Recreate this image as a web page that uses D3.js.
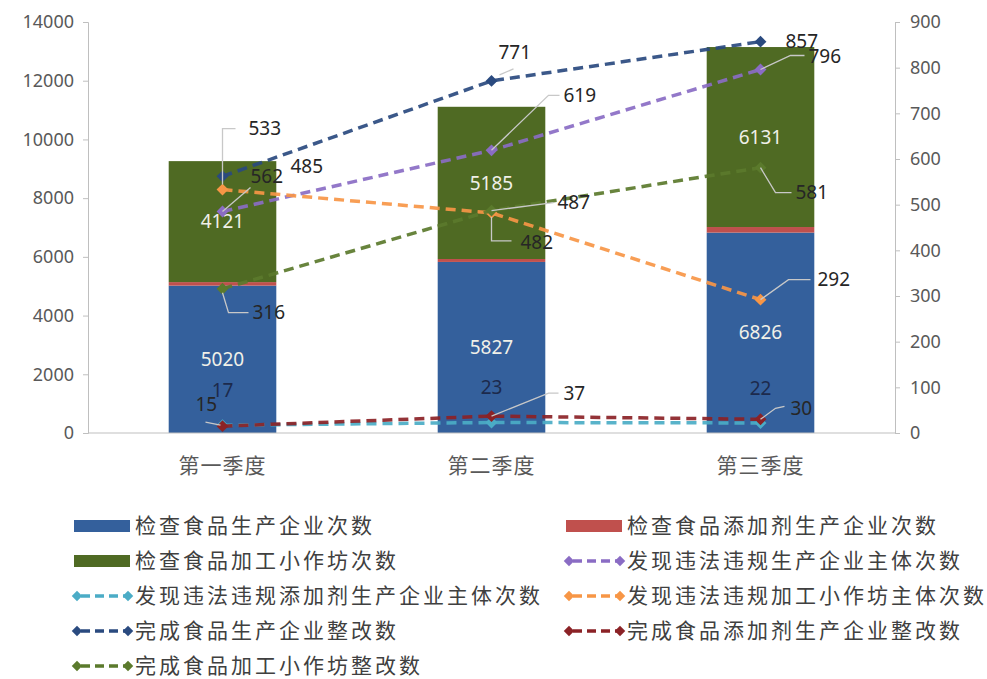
<!DOCTYPE html>
<html>
<head>
<meta charset="utf-8">
<script src="https://cdn.jsdelivr.net/npm/d3@7"></script>
<style>
  body { margin: 0; background: #fff; }
  text { font-family: "Noto Sans", "Noto Sans CJK SC", sans-serif; }
</style>
</head>
<body>
<div id="chart-area"></div>
<script>
// data
var quarters = ["第一季度", "第二季度", "第三季度"];

var prodChecks = [5020, 5827, 6826];      // 检查食品生产企业次数
var additiveChecks = [120, 100, 190];     // 检查食品添加剂生产企业次数 (no labels, estimated)
var workshopChecks = [4121, 5185, 6131];  // 检查食品加工小作坊次数

var prodIllegal = [485, 619, 796];        // 发现违法违规生产企业主体次数
var additiveIllegal = [17, 23, 22];       // 发现违法违规添加剂生产企业主体次数
var workshopIllegal = [533, 482, 292];    // 发现违法违规加工小作坊主体次数
var prodFixed = [562, 771, 857];          // 完成食品生产企业整改数
var additiveFixed = [15, 37, 30];         // 完成食品添加剂生产企业整改数
var workshopFixed = [316, 487, 581];      // 完成食品加工小作坊整改数

var leftTicks = [0, 2000, 4000, 6000, 8000, 10000, 12000, 14000];
var rightTicks = [0, 100, 200, 300, 400, 500, 600, 700, 800, 900];

var width = 987, height = 679;
var margin = { left: 88, right: 92, top: 22, bottom: 246 };
var plotW = width - margin.left - margin.right,
    plotH = height - margin.top - margin.bottom;

var svg = d3.select("#chart-area")
  .append("svg")
    .attr("width", width)
    .attr("height", height);

var g = svg.append("g")
  .attr("transform", "translate(" + margin.left + "," + margin.top + ")");

// scales
var x = d3.scaleBand()
  .domain(quarters)
  .range([0, plotW])
  .paddingInner(0.6)
  .paddingOuter(0.3);

var yL = d3.scaleLinear().domain([0, 14000]).range([plotH, 0]);
var yR = d3.scaleLinear().domain([0, 900]).range([plotH, 0]);

var axisColor = "#bfbfbf", textColor = "#595959";

// stacked bars
var barSeries = [
  { name: "检查食品生产企业次数", values: prodChecks, color: "#34609c", label: true },
  { name: "检查食品添加剂生产企业次数", values: additiveChecks, color: "#c0504d", label: false },
  { name: "检查食品加工小作坊次数", values: workshopChecks, color: "#4f6a23", label: true }
];

var stackRows = quarters.map(function(q, i) {
  var row = { q: q };
  barSeries.forEach(function(s, k) { row["s" + k] = s.values[i]; });
  return row;
});
var stacked = d3.stack().keys(barSeries.map(function(s, k) { return "s" + k; }))(stackRows);

stacked.forEach(function(layer, k) {
  g.append("g").selectAll("rect")
    .data(layer)
    .enter().append("rect")
      .attr("x", function(d) { return x(d.data.q); })
      .attr("y", function(d) { return yL(d[1]); })
      .attr("width", x.bandwidth())
      .attr("height", function(d) { return yL(d[0]) - yL(d[1]); })
      .attr("fill", barSeries[k].color);
});

// axes
var leftAxis = g.append("g")
  .call(d3.axisLeft(yL).tickValues(leftTicks).tickFormat(d3.format("d"))
    .tickSize(5).tickPadding(9).tickSizeOuter(5));
var rightAxis = g.append("g")
  .attr("transform", "translate(" + plotW + ",0)")
  .call(d3.axisRight(yR).tickValues(rightTicks).tickFormat(d3.format("d"))
    .tickSize(5).tickPadding(10).tickSizeOuter(5));
[leftAxis, rightAxis].forEach(function(a) {
  a.selectAll("path, line").attr("stroke", axisColor);
  a.selectAll("text").attr("fill", textColor).attr("font-size", "18px");
});

g.append("line")
  .attr("x1", 0).attr("x2", plotW)
  .attr("y1", plotH).attr("y2", plotH)
  .attr("stroke", axisColor);

g.selectAll(".cat")
  .data(quarters)
  .enter().append("text")
    .attr("class", "cat")
    .attr("x", function(d) { return x(d) + x.bandwidth() / 2; })
    .attr("y", plotH + 40)
    .attr("text-anchor", "middle")
    .attr("font-family", "Noto Sans CJK SC")
    .attr("font-size", "21px")
    .attr("letter-spacing", "1px")
    .attr("fill", textColor)
    .text(function(d) { return d; });

// bar labels
stacked.forEach(function(layer, k) {
  if (!barSeries[k].label) return;
  g.append("g").selectAll("text")
    .data(layer)
    .enter().append("text")
      .attr("x", function(d) { return x(d.data.q) + x.bandwidth() / 2; })
      .attr("y", function(d) { return (yL(d[0]) + yL(d[1])) / 2; })
      .attr("dy", "0.35em")
      .attr("text-anchor", "middle")
      .attr("font-size", "19px")
      .attr("fill", "#f0f0e8")
      .text(function(d) { return d.data["s" + k]; });
});

// line series (secondary axis)
var lineSeries = [
  { name: "发现违法违规生产企业主体次数", values: prodIllegal, color: "#8a6cc4" },
  { name: "发现违法违规添加剂生产企业主体次数", values: additiveIllegal, color: "#4bacc6" },
  { name: "发现违法违规加工小作坊主体次数", values: workshopIllegal, color: "#f79646" },
  { name: "完成食品生产企业整改数", values: prodFixed, color: "#2a4a7f" },
  { name: "完成食品添加剂生产企业整改数", values: additiveFixed, color: "#8b2226" },
  { name: "完成食品加工小作坊整改数", values: workshopFixed, color: "#5b7a2c" }
];

// label placement per series: [dx, dy] of text start, and leader polyline
var labelLayout = [
  [ { dx: 68, dy: -45, lead: [[0, 0], [28, -24]] },
    { dx: 72, dy: -55, lead: [[0, 0], [57, -55], [68, -55]] },
    { dx: 48, dy: -13, lead: [[0, 0], [30, -14], [44, -14]] } ],
  [ { dx: 0, dy: -35, mid: true }, { dx: 0, dy: -35, mid: true }, { dx: 0, dy: -35, mid: true } ],
  [ { dx: 26, dy: -61, lead: [[0, -5], [0, -61], [13, -61]] },
    { dx: 29, dy: 29, lead: [[0, 4], [0, 28], [20, 28]] },
    { dx: 57, dy: -20, lead: [[0, 0], [28, -20], [50, -20]] } ],
  [ { dx: 28, dy: 0 },
    { dx: 7, dy: -29, lead: [[8, -6], [22, -12]] },
    { dx: 25, dy: 0 } ],
  [ { dx: -27, dy: -22, lead: [[-2, -1], [-17, -4]] },
    { dx: 72, dy: -23, lead: [[0, 0], [57, -23], [67, -23]] },
    { dx: 30, dy: -11, lead: [[0, 0], [15, -11], [24, -13]] } ],
  [ { dx: 30, dy: 24, lead: [[0, 4], [6, 24], [26, 24]] },
    { dx: 66, dy: -8, lead: [[0, 0], [62, -8]] },
    { dx: 35, dy: 25, lead: [[0, 0], [15, 25], [31, 25]] } ]
];

var line = d3.line()
  .x(function(d, i) { return x(quarters[i]) + x.bandwidth() / 2; })
  .y(function(d) { return yR(d); });

var diamond = d3.symbol().type(d3.symbolDiamond2).size(90);

lineSeries.forEach(function(s) {
  g.append("path")
    .attr("d", line(s.values))
    .attr("fill", "none")
    .attr("stroke", s.color)
    .attr("stroke-width", 3.5)
    .attr("stroke-dasharray", "10,6")
    .attr("opacity", 0.92);
  g.append("g").selectAll("path")
    .data(s.values)
    .enter().append("path")
      .attr("d", diamond)
      .attr("transform", function(d, i) {
        return "translate(" + (x(quarters[i]) + x.bandwidth() / 2) + "," + yR(d) + ")";
      })
      .attr("fill", s.color);
});

// line labels + leader lines
lineSeries.forEach(function(s, k) {
  s.values.forEach(function(v, i) {
    var px = x(quarters[i]) + x.bandwidth() / 2, py = yR(v);
    var L = labelLayout[k][i];
    if (L.lead) {
      g.append("path")
        .attr("d", d3.line()(L.lead.map(function(p) { return [px + p[0], py + p[1]]; })))
        .attr("fill", "none")
        .attr("stroke", "#c8c8c8")
        .attr("stroke-width", 1.3);
    }
    g.append("text")
      .attr("x", px + L.dx)
      .attr("y", py + L.dy)
      .attr("dy", "0.35em")
      .attr("text-anchor", L.mid ? "middle" : "start")
      .attr("font-size", "19px")
      .attr("fill", k === 1 ? "#1c2a4c" : "#262626")
      .text(v);
  });
});

// legend
var legendItems = [];
barSeries.forEach(function(s) { legendItems.push({ name: s.name, color: s.color, type: "bar" }); });
lineSeries.forEach(function(s) { legendItems.push({ name: s.name, color: s.color, type: "line" }); });

var legend = svg.append("g");
legendItems.forEach(function(d, i) {
  var col = i % 2, row = Math.floor(i / 2);
  var lx = col === 0 ? 74 : 566, ly = 526 + row * 35;
  var item = legend.append("g").attr("transform", "translate(" + lx + "," + ly + ")");
  if (d.type === "bar") {
    item.append("rect")
      .attr("x", 0).attr("y", -6)
      .attr("width", 56).attr("height", 12)
      .attr("fill", d.color);
  } else {
    item.append("line")
      .attr("x1", 4).attr("x2", 52)
      .attr("stroke", d.color)
      .attr("stroke-width", 3.5)
      .attr("stroke-dasharray", "9,5")
      .attr("stroke-dashoffset", -3);
    [3, 54].forEach(function(mx) {
      item.append("path")
        .attr("d", d3.symbol().type(d3.symbolDiamond2).size(70))
        .attr("transform", "translate(" + mx + ",0)")
        .attr("fill", d.color);
    });
  }
  item.append("text")
    .attr("x", 61)
    .attr("dy", "0.35em")
    .attr("font-family", "Noto Sans CJK SC")
    .attr("font-size", "21px")
    .attr("letter-spacing", "3px")
    .attr("fill", "#404040")
    .text(d.name);
});
</script>
</body>
</html>
